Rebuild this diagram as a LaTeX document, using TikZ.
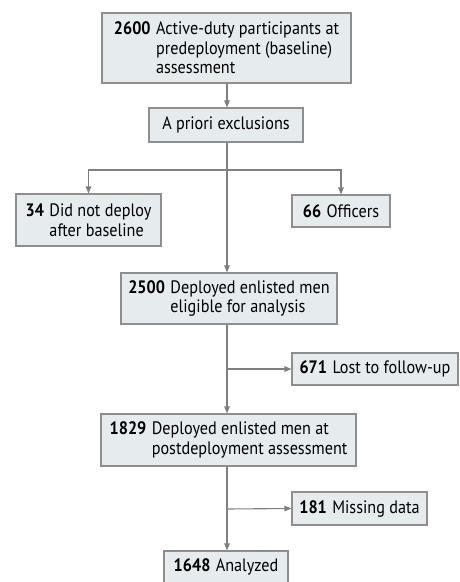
\documentclass[tikz,border=0pt]{standalone}
\usepackage{fontspec}
\setmainfont[FakeStretch=0.9]{PT Sans}
\usetikzlibrary{arrows.meta}
\definecolor{boxfill}{HTML}{E6EBEE}
\definecolor{boxline}{HTML}{8E8E8E}
\definecolor{arrowc}{HTML}{7F7F7F}
\newcommand{\txtlines}[1]{\vtop{\baselineskip=19.5pt\lineskiplimit=-50pt #1}}
\newcommand{\nbx}[2]{\textbf{#1}\hspace{0.3em}\txtlines{#2}}
\tikzset{
  fbox/.style 2 args={draw=boxline, fill=boxfill, line width=1.1pt, inner sep=0pt,
    minimum width=#1, minimum height=#2, anchor=center,
    font=\fontsize{18}{19.5}\selectfont},
  conn/.style={draw=arrowc, line width=1.1pt},
  arr/.style={conn, -{Triangle[length=7pt,width=5.5pt]}},
}
\begin{document}
\begin{tikzpicture}[x=1pt,y=-1pt]
\useasboundingbox (0,0) rectangle (459,582);
\node[fbox={249pt}{70pt}] (b1) at (226.5,48) {\nbx{2600}{\hbox{Active-duty participants at}\hbox{predeployment (baseline)}\hbox{assessment}}};
\node[fbox={154pt}{34pt}] (b2) at (226,125) {A priori exclusions};
\node[fbox={145pt}{52pt}] (b34) at (88.5,220) {\nbx{34}{\hbox{Did not deploy}\hbox{after baseline}}};
\node[fbox={98pt}{32pt}] (b66) at (341,211) {\textbf{66}\hspace{0.3em}Officers};
\node[fbox={216pt}{51pt}] (b2500) at (229,298.5) {\nbx{2500}{\hbox{Deployed enlisted men}\hbox{eligible for analysis}}};
\node[fbox={166pt}{32pt}] (b671) at (375,369) {\textbf{671}\hspace{0.3em}Lost to follow-up};
\node[fbox={255pt}{52pt}] (b1829) at (228.5,440) {\nbx{1829}{\hbox{Deployed enlisted men at}\hbox{postdeployment assessment}}};
\node[fbox={135pt}{33pt}] (b181) at (359.5,508.5) {\textbf{181}\hspace{0.3em}Missing data};
\node[fbox={124pt}{32pt}] (b1648) at (226,567) {\textbf{1648}\hspace{0.3em}Analyzed};
\coordinate (cx) at (227,0);
\coordinate (sp) at (227,170);
\coordinate (br1) at (227,369);
\coordinate (br2) at (227,509);
\draw[arr] (b1.south -| cx) -- (b2.north -| cx);
\draw[conn] (b2.south -| cx) -- (sp);
\draw[arr] (sp) -| (b34.north);
\draw[arr] (sp) -| (b66.north);
\draw[arr] (sp) -- (b2500.north -| cx);
\draw[arr] (b2500.south -| cx) -- (b1829.north -| cx);
\draw[arr] (br1) -- (b671.west);
\draw[arr] (b1829.south -| cx) -- (b1648.north -| cx);
\draw[arr] (br2) -- (b181.west);
\end{tikzpicture}
\end{document}
